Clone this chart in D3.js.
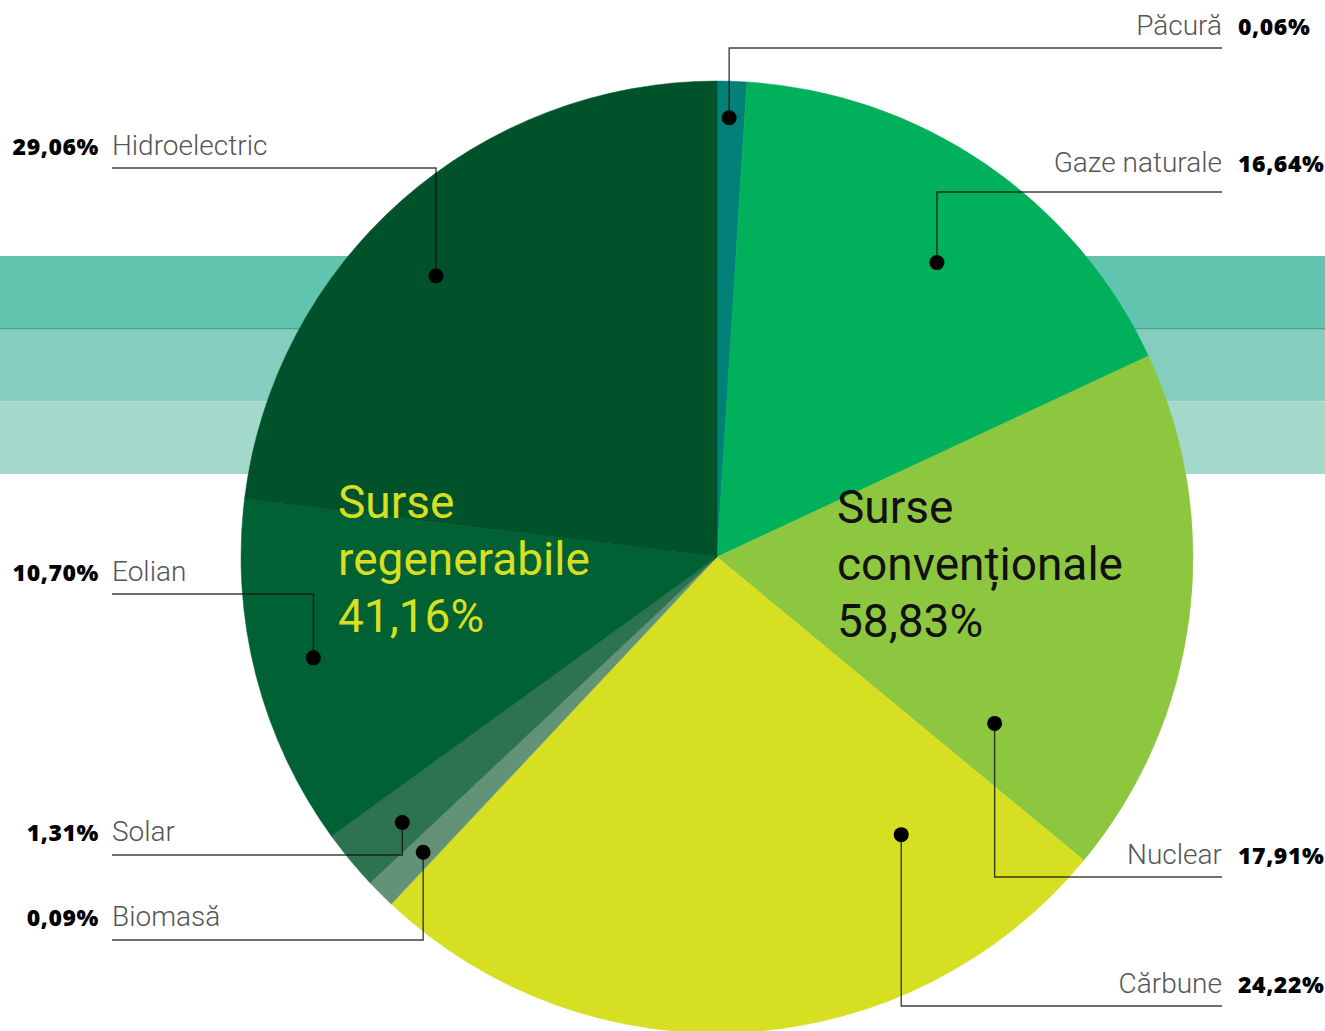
<!DOCTYPE html>
<html>
<head>
<meta charset="utf-8">
<script src="https://cdn.jsdelivr.net/npm/d3@7"></script>
<style>
  body { margin: 0; background: #fff; }
  svg { display: block; }
</style>
</head>
<body>
<svg id="chart" width="1325" height="1031"></svg>
<script>
// sources, clockwise from 12 o'clock
const sources = ["Păcură", "Gaze naturale", "Nuclear", "Cărbune", "Biomasă", "Solar", "Eolian", "Hidroelectric"];
const groups = ["conv", "conv", "conv", "conv", "regen", "regen", "regen", "regen"];
// printed percentages
const printedPct = [0.06, 16.64, 17.91, 24.22, 0.09, 1.31, 10.70, 29.06];
// the artwork is not drawn to scale: share of the circle each slice actually takes
const drawnShare = [1.0, 17.06, 17.94, 26.0, 1.0, 2.03, 11.92, 23.06];
const sliceColors = ["#008077", "#00b05a", "#8dc63f", "#d6df22", "#639377", "#2e7350", "#006134", "#00522a"];
const bandColors = ["#60c4ae", "#85cebf", "#a3d9cb"];

const width = 1325, height = 1031;
const cx = 717, cy = 557, R = 476;

// callout layout: where on the slice the dot sits, and where the label line runs
const callouts = [
  { side: "right", t: 0.44, rf: 0.923, lineY: 48, textY: 35 },
  { side: "right", t: 0.54, rf: 0.772, lineY: 192, textY: 172 },
  { side: "right", t: 0.866, rf: 0.68, lineY: 877, textY: 864 },
  { side: "right", t: 0.18, rf: 0.70, lineY: 1006, textY: 993 },
  { side: "left", t: 0.47, rf: 0.875, lineY: 940, textY: 926 },
  { side: "left", t: 0.42, rf: 0.865, lineY: 855, textY: 841 },
  { side: "left", t: 0.51, rf: 0.874, lineY: 594, textY: 581 },
  { side: "left", t: 0.458, rf: 0.835, lineY: 168, textY: 155 }
];
const rightX = 1222, leftX = 112;

const fmt = (v) => v.toFixed(2).replace(".", ",") + "%";

const svg = d3.select("#chart");

// background bands
const bandY = d3.scaleBand().domain(d3.range(bandColors.length)).range([256, 474]);
svg.append("g")
  .selectAll("rect")
  .data(bandColors)
  .join("rect")
  .attr("x", 0)
  .attr("y", (d, i) => bandY(i))
  .attr("width", width)
  .attr("height", bandY.bandwidth())
  .attr("fill", (d) => d);
svg.append("line")
  .attr("x1", 0).attr("x2", width)
  .attr("y1", bandY(1)).attr("y2", bandY(1))
  .attr("stroke", "#3d9c80").attr("stroke-width", 1);

// pie
const rows = sources.map((s, i) => ({ name: s, group: groups[i], pct: printedPct[i], share: drawnShare[i], color: sliceColors[i], i }));
const pie = d3.pie().sort(null).value((d) => d.share);
const arcs = pie(rows);
const arc = d3.arc().innerRadius(0).outerRadius(R);

const g = svg.append("g").attr("transform", `translate(${cx},${cy})`);
g.selectAll("path")
  .data(arcs)
  .join("path")
  .attr("d", arc)
  .attr("fill", (d) => d.data.color)
  .attr("stroke", (d) => d.data.color)
  .attr("stroke-width", 0.5);

// group totals in the middle
const regenTotal = d3.sum(rows.filter((d) => d.group === "regen"), (d) => d.pct);
const convTotal = d3.sum(rows.filter((d) => d.group === "conv"), (d) => d.pct);

function bigLabel(x, y, lines, color) {
  const t = svg.append("text")
    .attr("x", x)
    .attr("y", y)
    .attr("fill", color)
    .style("font-family", "Roboto, sans-serif")
    .style("font-size", "46px");
  lines.forEach((l, k) => {
    t.append("tspan").attr("x", x).attr("dy", k === 0 ? 0 : 57).text(l);
  });
}
bigLabel(338, 518, ["Surse", "regenerabile", fmt(regenTotal)], "#d6df22");
bigLabel(837, 523, ["Surse", "convenționale", fmt(convTotal)], "#111");

// callouts
const co = svg.append("g");
arcs.forEach((a, i) => {
  const c = callouts[i];
  const ang = a.startAngle + c.t * (a.endAngle - a.startAngle);
  const dx = cx + Math.sin(ang) * R * c.rf;
  const dy = cy - Math.cos(ang) * R * c.rf;
  const endX = c.side === "right" ? rightX : leftX;

  co.append("path")
    .attr("d", d3.line()([[dx, dy], [dx, c.lineY], [endX, c.lineY]]))
    .attr("fill", "none")
    .attr("stroke", "#111")
    .attr("stroke-opacity", 0.8)
    .attr("stroke-width", 1.4);
  co.append("circle")
    .attr("cx", dx).attr("cy", dy).attr("r", 7.5)
    .attr("fill", "#000");

  const name = co.append("text")
    .attr("y", c.textY)
    .attr("fill", "#555")
    .style("font-family", "Roboto, sans-serif")
    .style("font-weight", 300)
    .style("font-size", "28px")
    .text(a.data.name);
  const pct = co.append("text")
    .attr("y", c.textY)
    .attr("fill", "#000")
    .style("font-family", "'Open Sans', sans-serif")
    .style("font-weight", 800)
    .style("font-size", "23px")
    .style("letter-spacing", "0.6px")
    .text(fmt(a.data.pct));
  if (c.side === "right") {
    name.attr("x", rightX).attr("text-anchor", "end");
    pct.attr("x", rightX + 16).attr("text-anchor", "start");
  } else {
    name.attr("x", leftX).attr("text-anchor", "start");
    pct.attr("x", leftX - 13).attr("text-anchor", "end");
  }
});
</script>
</body>
</html>
